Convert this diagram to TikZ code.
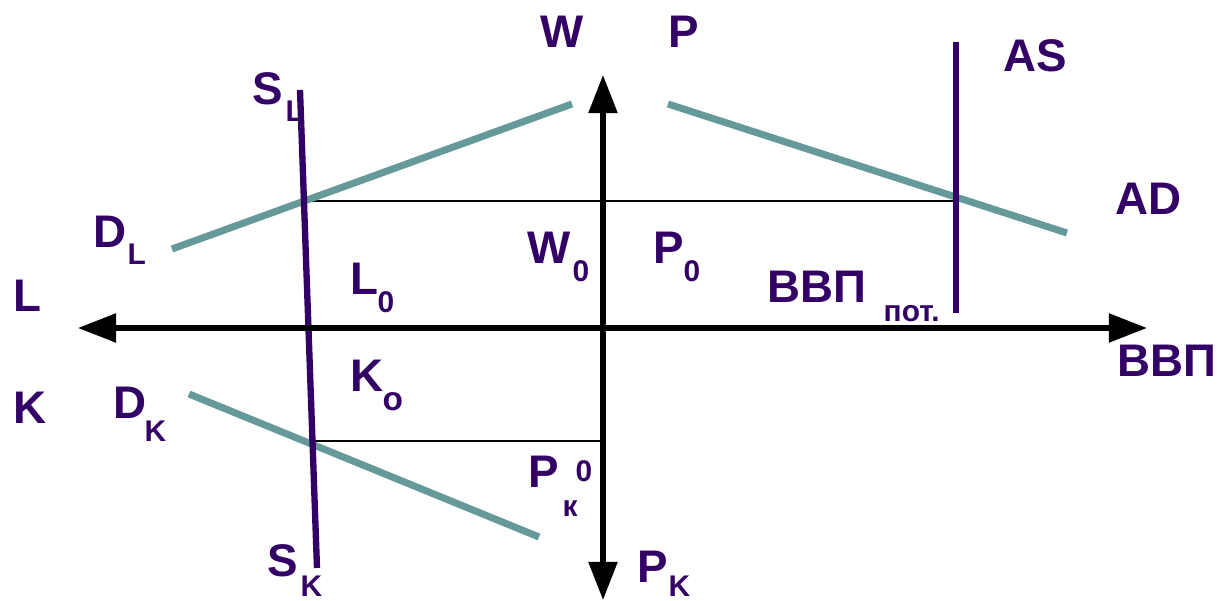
\documentclass[tikz,border=0pt]{standalone}
\usepackage{fontspec}
\setmainfont{Liberation Sans}
\usetikzlibrary{arrows.meta}
\definecolor{ink}{RGB}{51,0,102}
\definecolor{teal2}{RGB}{102,153,153}
\tikzset{
  lab/.style={inner sep=0pt, anchor=base west, text=ink, font=\fontsize{13}{13}\selectfont\bfseries},
  sublab/.style={inner sep=0pt, anchor=base west, text=ink, font=\fontsize{8.5}{8.5}\selectfont\bfseries},
  axis/.style={line width=1.5pt, black, {Triangle[length=0.38cm,width=0.28cm]}-{Triangle[length=0.38cm,width=0.28cm]}},
  supply/.style={line width=1.8pt, ink},
  demand/.style={line width=2pt, teal2},
  guide/.style={line width=0.5pt, black}
}
\begin{document}
\begin{tikzpicture}[x=0.01cm,y=-0.01cm]
\useasboundingbox (0,0) rectangle (1217,601);
% coordinates
\coordinate (axL) at (78,328);
\coordinate (axR) at (1147,328);
\coordinate (axT) at (603,75);
\coordinate (axB) at (603,600);
\coordinate (slT) at (300,90);
\coordinate (skB) at (317,568);
\coordinate (dlA) at (172,249);
\coordinate (dlB) at (572,104);
\coordinate (adA) at (668,104);
\coordinate (adB) at (1067,233);
\coordinate (dkA) at (189,394);
\coordinate (dkB) at (539,537);
\coordinate (asT) at (956,42);
\coordinate (asB) at (956,313);
\coordinate (g1A) at (300,201);
\coordinate (g1B) at (972,201);
\coordinate (g2A) at (313,441);
\coordinate (g2B) at (603,441);
% guide lines
\draw[guide] (g1A) -- (g1B);
\draw[guide] (g2A) -- (g2B);
% demand lines
\draw[demand] (dlA) -- (dlB);
\draw[demand] (adA) -- (adB);
\draw[demand] (dkA) -- (dkB);
% supply lines
\draw[supply] (slT) -- (skB);
\draw[supply] (asT) -- (asB);
% axes
\draw[axis] (axL) -- (axR);
\draw[axis] (axT) -- (axB);
% labels
\node[lab] (W) at (540,48) {W};
\node[lab] (P) at (668,48) {P};
\node[lab] (SL) at (252,105) {S};
\node[sublab] (SLs) at (285,122) {L};
\node[lab] (AS) at (1003,72) {AS};
\node[lab] (AD) at (1115,215) {AD};
\node[lab] (DL) at (93,248) {D};
\node[sublab] (DLs) at (127,265) {L};
\node[lab] (Lax) at (13,312) {L};
\node[lab] (L0) at (350,295) {L};
\node[sublab] (L0s) at (377,313) {0};
\node[lab] (W0) at (527,264) {W};
\node[sublab] (W0s) at (572,282) {0};
\node[lab] (P0) at (653,264) {P};
\node[sublab] (P0s) at (683,282) {0};
\node[lab] (VVPp) at (767,303) {ВВП};
\node[sublab] (VVPps) at (883,322) {пот.};
\node[lab] (VVP) at (1117,377) {ВВП};
\node[lab] (Kax) at (13,424) {K};
\node[lab] (DK) at (113,419) {D};
\node[sublab] (DKs) at (144,442) {K};
\node[lab] (Ko) at (350,392) {K};
\node[sublab, font=\fontsize{9.5}{9.5}\selectfont\bfseries] (Kos) at (382,411) {o};
\node[lab] (Pk0) at (528,488) {P};
\node[sublab] (Pk0s) at (562,517) {к};
\node[sublab] (Pk0p) at (575,482) {0};
\node[lab] (SK) at (267,577) {S};
\node[sublab] (SKs) at (300,597) {K};
\node[lab] (PK) at (637,583) {P};
\node[sublab] (PKs) at (668,597) {K};
\end{tikzpicture}
\end{document}
